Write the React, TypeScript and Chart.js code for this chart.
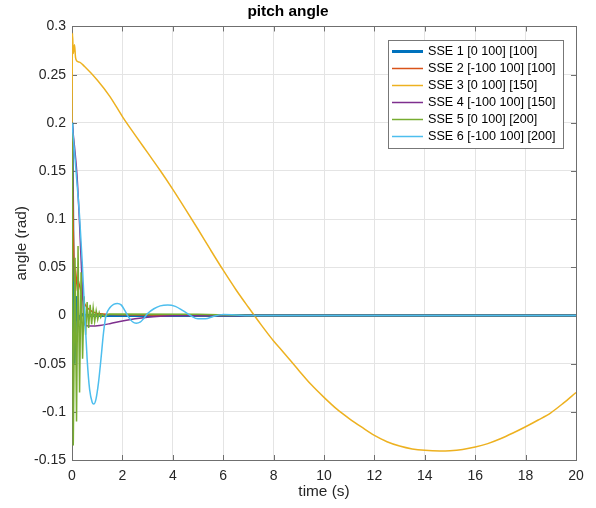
import React, { useEffect, useRef } from 'react';
import { Chart, registerables } from 'chart.js';

Chart.register(...registerables);

const FONT = '"Liberation Sans", Arial, Helvetica, sans-serif';

const seriesLabels = [
  'SSE 1 [0 100] [100]',
  'SSE 2 [-100 100] [100]',
  'SSE 3 [0 100] [150]',
  'SSE 4 [-100 100] [150]',
  'SSE 5 [0 100] [200]',
  'SSE 6 [-100 100] [200]',
];
const seriesColors = ['#0072BD', '#D95319', '#EDB120', '#7E2F8E', '#77AC30', '#4DBEEE'];
const seriesWidths = [3, 1.5, 1.5, 1.5, 1.5, 1.5];

const sse1Time = [0, 0.04, 0.08, 0.12, 0.16, 0.2, 0.25, 0.3, 0.4, 0.5, 20];
const sse1Angle = [0.2, 0.06, -0.05, -0.02, 0.02, 0.008, -0.004, -0.002, 0.001, 0, 0];

const sse2Time = [0, 0.05, 0.1, 0.15, 0.2, 0.25, 0.3, 0.35, 0.4, 0.5, 0.6, 0.8, 1, 1.5, 2, 3, 4, 5, 20];
const sse2Angle = [0.2, 0.09, 0.035, 0.045, 0.03, 0.036, 0.031, 0.026, 0.02, 0.012, 0.008, 0.004, 0.002, 0.001, 0.0008, 0.0004, 0.0002, 0, 0];

const sse3Time = [0, 0.02, 0.05, 0.1, 0.14, 0.2, 0.3, 0.5, 1, 1.5, 2, 2.5, 3, 3.5, 4, 4.5, 5, 5.5, 6, 6.5, 7, 7.5, 8, 8.32, 9, 9.5, 10, 10.5, 11, 11.5, 12, 12.5, 13, 13.5, 14, 14.6, 15, 15.5, 16, 16.5, 17, 17.5, 18, 18.5, 19, 19.5, 20];
const sse3Angle = [0.2, 0.293, 0.272, 0.281, 0.268, 0.264, 0.263, 0.2585, 0.2445, 0.2275, 0.2065, 0.1875, 0.169, 0.1505, 0.131, 0.1105, 0.0895, 0.068, 0.047, 0.027, 0.0085, -0.0095, -0.0265, -0.036, -0.057, -0.072, -0.085, -0.097, -0.107, -0.116, -0.1245, -0.131, -0.1355, -0.1385, -0.14, -0.1406, -0.1403, -0.139, -0.1366, -0.133, -0.128, -0.122, -0.1155, -0.1085, -0.101, -0.091, -0.08];

const sse4Time = [0, 0.1, 0.2, 0.3, 0.4, 0.48, 0.55, 0.8, 1.1, 1.5, 2, 2.5, 3, 3.5, 4, 4.5, 5, 20];
const sse4Angle = [0.2, 0.175, 0.145, 0.095, 0.035, -0.005, -0.0105, -0.011, -0.0103, -0.0085, -0.0058, -0.0035, -0.0018, -0.0008, -0.0003, -0.0001, 0, 0];

const sse5Time = [0, 0.05, 0.12, 0.18, 0.24, 0.3, 0.36, 0.42, 0.48, 0.54, 0.6, 0.66, 0.72, 0.78, 0.84, 0.9, 0.96, 1.02, 1.08, 1.14, 1.2, 1.3, 1.4, 1.5, 5, 7, 20];
const sse5Angle = [0.2, -0.135, 0.06, -0.11, 0.072, -0.08, 0.045, -0.045, 0.02, -0.02, 0.014, -0.013, 0.011, -0.009, 0.008, -0.006, 0.005, -0.004, 0.003, -0.002, 0.0015, -0.001, 0.0005, 0.0015, 0.0012, 0, 0];

const sse6Time = [0, 0.1, 0.2, 0.3, 0.4, 0.5, 0.6, 0.7, 0.8, 0.86, 0.95, 1.05, 1.15, 1.25, 1.35, 1.5, 1.65, 1.8, 1.95, 2.1, 2.25, 2.4, 2.55, 2.7, 2.85, 3.0, 3.25, 3.5, 3.8, 4.1, 4.4, 4.7, 5.0, 5.3, 5.6, 6.0, 6.5, 7, 20];
const sse6Angle = [0.2, 0.17, 0.137, 0.103, 0.058, 0.005, -0.045, -0.077, -0.09, -0.092, -0.087, -0.07, -0.045, -0.018, 0.0, 0.008, 0.0115, 0.0125, 0.011, 0.005, -0.002, -0.0065, -0.008, -0.007, -0.003, 0.002, 0.007, 0.01, 0.011, 0.0095, 0.005, 0.0, -0.0035, -0.0035, -0.001, 0.001, 0.0005, 0, 0];

const seriesTimes = [sse1Time, sse2Time, sse3Time, sse4Time, sse5Time, sse6Time];
const seriesAngles = [sse1Angle, sse2Angle, sse3Angle, sse4Angle, sse5Angle, sse6Angle];
const smoothSeries = [false, false, true, true, false, true];

const xTickValues = [0, 2, 4, 6, 8, 10, 12, 14, 16, 18, 20];
const yTickValues = [-0.15, -0.1, -0.05, 0, 0.05, 0.1, 0.15, 0.2, 0.25, 0.3];

const framePlugin = {
  id: 'matlabFrame',
  beforeDatasetsDraw(chart: any) {
    const { ctx, chartArea: a, scales } = chart;
    ctx.save();
    ctx.strokeStyle = '#6f6f6f';
    ctx.lineWidth = 1;
    const len = 5;
    ctx.beginPath();
    xTickValues.forEach((v) => {
      const px = Math.round(scales.x.getPixelForValue(v)) + 0.5;
      ctx.moveTo(px, a.bottom);
      ctx.lineTo(px, a.bottom - len);
      ctx.moveTo(px, a.top);
      ctx.lineTo(px, a.top + len);
    });
    yTickValues.forEach((v) => {
      const py = Math.round(scales.y.getPixelForValue(v)) + 0.5;
      ctx.moveTo(a.left, py);
      ctx.lineTo(a.left + len, py);
      ctx.moveTo(a.right, py);
      ctx.lineTo(a.right - len, py);
    });
    ctx.stroke();
    ctx.strokeRect(Math.round(a.left) + 0.5, Math.round(a.top) + 0.5, Math.round(a.right - a.left), Math.round(a.bottom - a.top));
    ctx.restore();
  },
  afterDraw(chart: any) {
    const { ctx } = chart;
    const bx = 388, by = 40, bw = 175, bh = 108;
    ctx.save();
    ctx.fillStyle = '#ffffff';
    ctx.fillRect(bx, by, bw, bh);
    ctx.strokeStyle = '#777777';
    ctx.lineWidth = 1;
    ctx.strokeRect(bx + 0.5, by + 0.5, bw, bh);
    ctx.font = `12.6px ${FONT}`;
    ctx.textBaseline = 'middle';
    ctx.textAlign = 'left';
    chart.data.datasets.forEach((ds: any, i: number) => {
      const y = by + 11.5 + i * 17;
      ctx.strokeStyle = ds.borderColor;
      ctx.lineWidth = ds.borderWidth;
      ctx.beginPath();
      ctx.moveTo(392, y);
      ctx.lineTo(423, y);
      ctx.stroke();
      ctx.fillStyle = '#000000';
      ctx.fillText(ds.label, 428, y + 0.5);
    });
    ctx.restore();
  },
};

export default function App() {
  const ref = useRef<HTMLCanvasElement | null>(null);
  useEffect(() => {
    if (!ref.current) return;
    const datasets = seriesLabels.map((label, i) => ({
      label,
      data: seriesTimes[i].map((t, j) => ({ x: t, y: seriesAngles[i][j] })),
      borderColor: seriesColors[i],
      backgroundColor: seriesColors[i],
      borderWidth: seriesWidths[i],
      pointRadius: 0,
      fill: false,
      order: seriesLabels.length - i,
      cubicInterpolationMode: smoothSeries[i] ? 'monotone' : 'default',
      tension: 0,
    }));
    const chart = new Chart(ref.current, {
      type: 'line',
      data: { datasets },
      plugins: [framePlugin],
      options: {
        animation: false,
        responsive: false,
        layout: { padding: { left: 0, right: 20, top: 0, bottom: 0 } },
        plugins: {
          legend: { display: false },
          tooltip: { enabled: false },
          title: {
            display: true,
            text: 'pitch angle',
            color: '#000000',
            font: { family: FONT, size: 15.4, weight: 'bold' },
            padding: { top: 3, bottom: 5 },
          },
        },
        scales: {
          x: {
            type: 'linear',
            min: 0,
            max: 20,
            afterBuildTicks: (s: any) => { s.ticks = xTickValues.map((v) => ({ value: v })); },
            afterFit: (s: any) => { s.height = 48; },
            grid: { color: '#e4e4e4', drawTicks: false },
            border: { display: false },
            ticks: { color: '#262626', font: { family: FONT, size: 14 }, padding: 8, maxRotation: 0 },
            title: { display: true, text: 'time (s)', color: '#262626', font: { family: FONT, size: 15.4 }, padding: { top: 4, bottom: 7 } },
          },
          y: {
            type: 'linear',
            min: -0.15,
            max: 0.3,
            afterBuildTicks: (s: any) => { s.ticks = yTickValues.map((v) => ({ value: v })); },
            afterFit: (s: any) => { s.width = 72; },
            grid: { color: '#e4e4e4', drawTicks: false },
            border: { display: false },
            ticks: {
              color: '#262626',
              font: { family: FONT, size: 14 },
              padding: 6,
              callback: (v: any) => String(Number(Number(v).toFixed(2))),
            },
            title: { display: true, text: 'angle (rad)', color: '#262626', font: { family: FONT, size: 15.4 }, padding: { top: 13, bottom: 4 } },
          },
        },
      } as any,
    });
    return () => chart.destroy();
  }, []);
  return (
    <div style={{ position: 'fixed', left: 0, top: 0, width: 596, height: 508, background: '#fff' }}>
      <canvas ref={ref} width={596} height={508} style={{ display: 'block' }} />
    </div>
  );
}
